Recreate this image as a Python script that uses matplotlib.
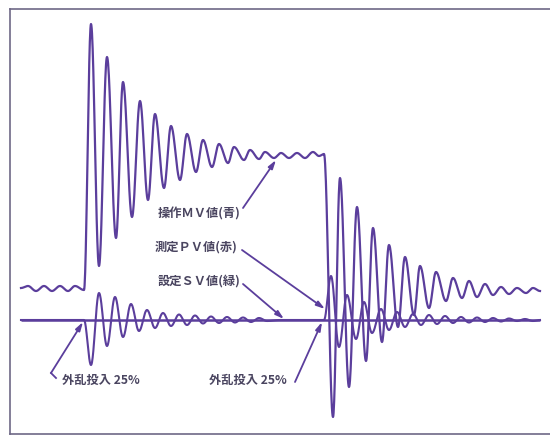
import numpy as np
import matplotlib
matplotlib.use("Agg")
import matplotlib.pyplot as plt

plt.rcParams['font.family'] = ['Noto Sans CJK JP', 'DejaVu Sans']

# ---- data (time units, level with SV = 0) ----
mv_time = [21, 28, 36, 44, 52, 60, 68, 75, 84,
           91, 99, 107, 116, 123, 132, 140, 148, 155, 164, 171, 180, 187, 196,
           203, 212, 219, 228, 234, 244, 250, 259, 265, 274, 281, 289, 297, 305,
           313, 319, 324,
           333, 340, 349, 357, 366, 373, 382, 389, 398, 405, 414, 420, 429, 436,
           446, 453, 462, 469, 477, 485, 493, 501, 509, 517, 526, 533, 540]
mv_level = [32, 34, 29, 34, 29, 34, 29, 34, 30,
            296, 54, 263, 82, 238, 103, 219, 120, 206, 132, 194, 140, 186, 148,
            180, 153, 176, 157, 173, 160, 170, 161, 168, 162, 167, 162, 167, 162,
            168, 164, 166,
            -97, 142, -67, 113, -41, 92, -22, 75, -7, 63, 5, 54, 12, 48,
            19, 42, 22, 39, 23, 36, 25, 33, 26, 32, 27, 32, 29]

pv_time = [21, 84,
           91, 99, 107, 115, 123, 131, 139, 147, 155, 163, 171, 179, 187, 195,
           203, 211, 219, 227, 235, 243, 251, 259, 267,
           280, 324,
           331, 339, 347, 356, 364, 372, 381, 389, 397, 405, 413, 421, 429, 437,
           445, 453, 461, 469, 477, 485, 493, 501, 509, 517, 525, 533, 540]
pv_level = [0, 0,
            -45, 27, -26, 23, -17, 16, -11, 10, -8, 7, -6, 5.5, -5, 4.5,
            -3.5, 3.5, -3, 3, -2.5, 2.5, -2, 2, -1,
            0, 0,
            44, -27, 25, -19, 18, -13, 11, -10, 8, -7, 6, -5, 5, -4,
            4, -3, 3, -2.5, 2.5, -2, 2, -1.5, 1.5, -1, 1, -1, 0]

sv_time = [21, 540]
sv_level = [0, 0]

labels = ["操作ＭＶ値(青)", "測定ＰＶ値(赤)", "設定ＳＶ値(緑)"]
disturb_label = "外乱投入 25%"

LINE = '#5b3e9c'
TEXT = '#4a4560'
FRAME = '#6e6886'


def smooth(t, v, n=24):
    """Join successive readings with half-cosine strokes (pen-like trace)."""
    xs, ys = [], []
    for i in range(len(t) - 1):
        s = np.linspace(0, 1, n, endpoint=False)
        w = (1 - np.cos(np.pi * s)) / 2
        xs.append(t[i] + (t[i + 1] - t[i]) * s)
        ys.append(v[i] + (v[i + 1] - v[i]) * w)
    xs.append([t[-1]])
    ys.append([v[-1]])
    return np.concatenate(xs), np.concatenate(ys)


fig = plt.figure(figsize=(5.5, 4.36), dpi=100)
ax = fig.add_axes([10 / 550, 2 / 436, 541 / 550, 425 / 436])
ax.set_xlim(10, 551)
ax.set_ylim(-114, 311)
ax.set_xticks([])
ax.set_yticks([])
for side in ['left', 'top', 'bottom']:
    ax.spines[side].set_color(FRAME)
    ax.spines[side].set_linewidth(1.2)
ax.spines['right'].set_visible(False)

ax.plot(sv_time, sv_level, color=LINE, lw=1.8, solid_capstyle='butt')
x, y = smooth(pv_time, pv_level)
ax.plot(x, y, color=LINE, lw=1.5)
x, y = smooth(mv_time, mv_level)
ax.plot(x, y, color=LINE, lw=1.6)

fs = 8.8
tkw = dict(fontsize=fs, color=TEXT, fontweight='bold', va='center')
arrow = dict(arrowstyle='-|>,head_length=0.5,head_width=0.15', color=LINE, lw=1.3,
             shrinkA=0, shrinkB=0)

ax.text(240, 106, labels[0], ha='right', **tkw)
ax.annotate('', xy=(276, 160), xytext=(243, 112), arrowprops=arrow)

ax.text(237, 73, labels[1], ha='right', **tkw)
ax.annotate('', xy=(325, 11), xytext=(242, 70), arrowprops=arrow)

ax.text(240, 39, labels[2], ha='right', **tkw)
ax.annotate('', xy=(284, 1), xytext=(243, 36), arrowprops=arrow)

ax.text(62, -60, disturb_label, ha='left', **tkw)
ax.plot([56, 51], [-58, -53], color=LINE, lw=1.3)
ax.annotate('', xy=(83, -2), xytext=(51, -53), arrowprops=arrow)

ax.text(209, -60, disturb_label, ha='left', **tkw)
ax.annotate('', xy=(322, -2), xytext=(295, -62), arrowprops=arrow)

fig.savefig('out.png', dpi=100)
